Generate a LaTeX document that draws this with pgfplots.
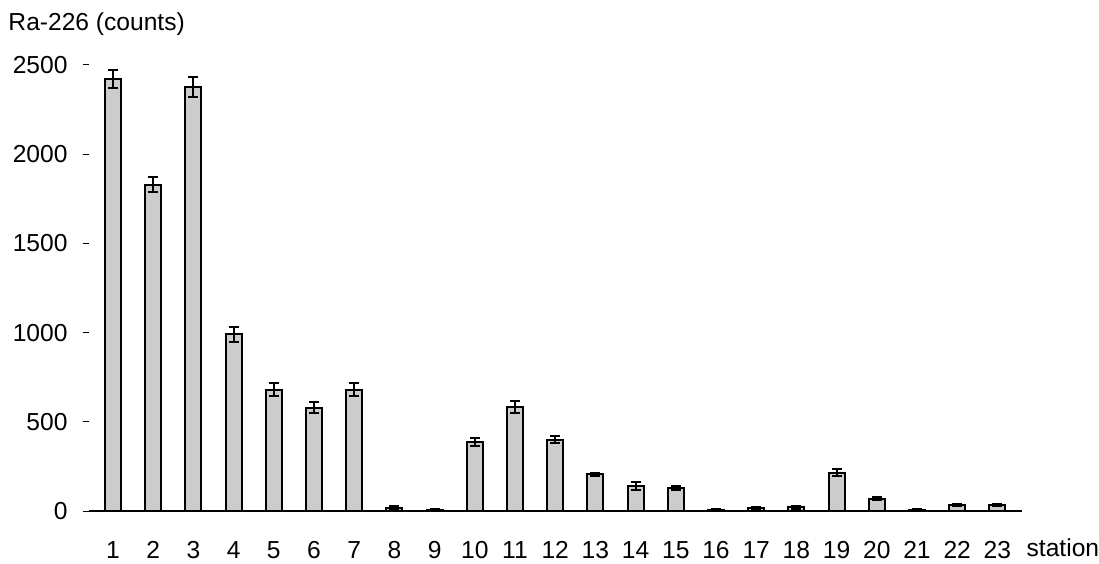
\documentclass[border=0pt]{standalone}
\usepackage{fontspec}
\setmainfont{Liberation Sans}
\usepackage{pgfplots}
\pgfplotsset{compat=1.18}
\begin{document}
\begin{tikzpicture}
\begin{axis}[
  scale only axis, width=466.3pt, height=223pt,
  xmin=0.4, xmax=23.6, ymin=0, ymax=2500,
  axis x line*=bottom, axis y line*=left,
  y axis line style={draw=none},
  x axis line style={line width=0.6pt, black},
  xtick={1,...,23}, major x tick style={draw=none},
  xtick align=inside, ytick align=outside,
  ytick={0,500,...,2500}, major tick length=3pt,
  major y tick style={line width=0.5pt, black},
  font=\fontsize{12.3}{14}\selectfont,
  /pgf/number format/assume math mode=true,
  /pgf/number format/1000 sep={},
  scaled y ticks=false,
  xticklabel style={anchor=base, yshift=-20.75pt, inner sep=0pt},
  yticklabel style={anchor=east, inner sep=0pt, xshift=-7.5pt},
  clip=false,
  ybar, bar width=8pt,
]
\coordinate (sw) at (rel axis cs:0,0);
\addplot[fill=black!20, draw=black, line width=1pt,
  error bars/.cd, y dir=both, y explicit,
  error bar style={line width=1pt, black},
  error mark options={rotate=90, mark size=2.5pt, line width=1pt, black}]
coordinates {
(1,2420) +- (0,50)
(2,1830) +- (0,40)
(3,2375) +- (0,55)
(4,990) +- (0,40)
(5,680) +- (0,35)
(6,580) +- (0,30)
(7,680) +- (0,35)
(8,18) +- (0,8)
(9,5) +- (0,4)
(10,385) +- (0,22)
(11,583) +- (0,35)
(12,400) +- (0,20)
(13,205) +- (0,10)
(14,140) +- (0,25)
(15,130) +- (0,10)
(16,8) +- (0,5)
(17,15) +- (0,6)
(18,20) +- (0,8)
(19,215) +- (0,20)
(20,70) +- (0,8)
(21,5) +- (0,4)
(22,32) +- (0,6)
(23,32) +- (0,6)
};
\node[anchor=base, inner sep=0pt, yshift=-22.75pt] at (axis cs:24.63,0) {station};
\node[anchor=base west, inner sep=0pt] at (axis cs:-1.61,2693) {Ra-226 (counts)};
\end{axis}
\pgfresetboundingbox
\path (sw) ++(-44.45pt,-26pt) rectangle ++(549.5pt,281.5pt);
\end{tikzpicture}
\end{document}
